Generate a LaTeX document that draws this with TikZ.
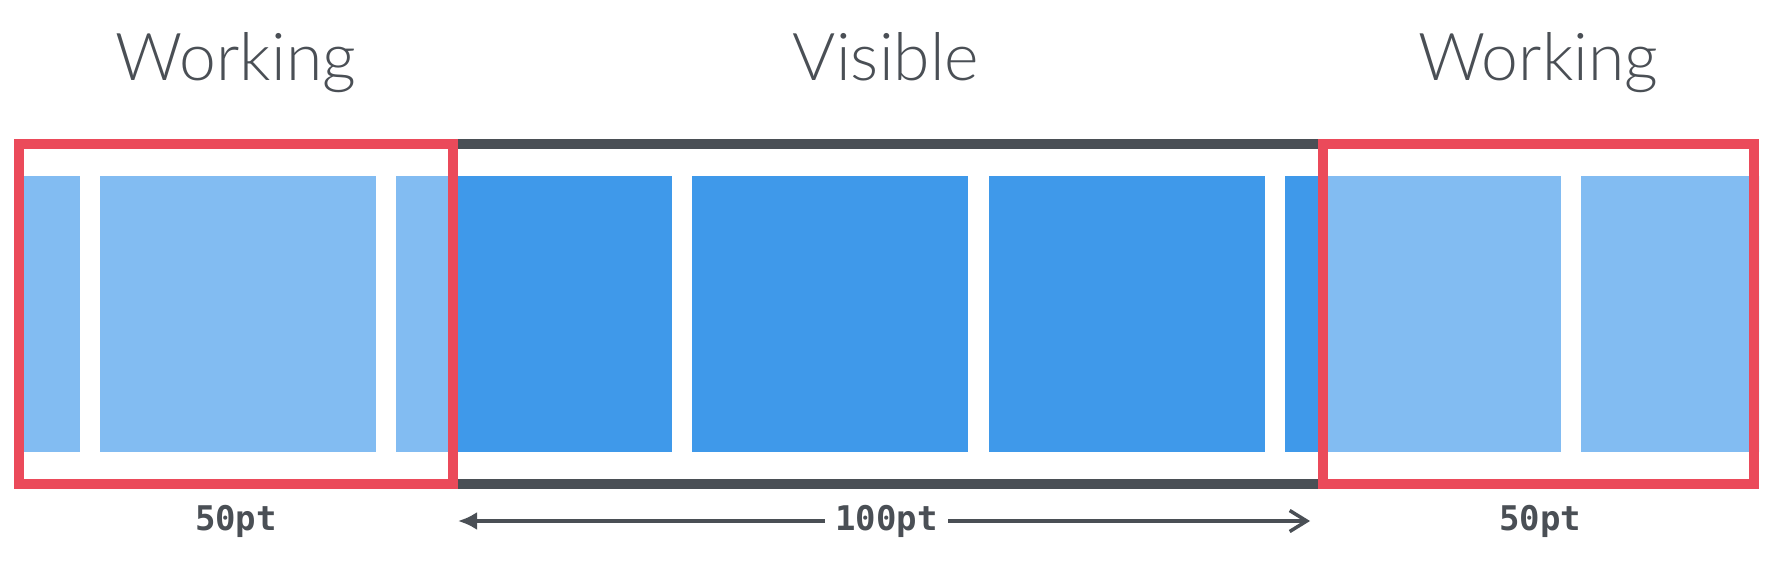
\documentclass[tikz,border=0pt]{standalone}
\usepackage{fontspec}
\usetikzlibrary{arrows.meta}
\newfontfamily\titlefont{Lato Light}
\newfontfamily\dimfont{DejaVu Sans Mono}
\definecolor{workblue}{RGB}{130,188,242}
\definecolor{seenblue}{RGB}{63,153,234}
\definecolor{workred}{RGB}{235,74,90}
\definecolor{framegray}{RGB}{74,79,85}
\tikzset{
  title/.style={text=framegray, font=\titlefont\fontsize{33}{40}\selectfont, anchor=base},
  dim/.style={text=framegray, font=\dimfont\bfseries\fontsize{17}{20}\selectfont, anchor=base, inner xsep=5pt},
  edge/.style={line width=5pt},
  dimline/.style={framegray, line width=1.75pt},
}
\begin{document}
\begin{tikzpicture}[x=0.5pt,y=-0.5pt]
    \useasboundingbox (0,0) rectangle (1776,568);
    % cells, pale where they are only worked on
    \begin{scope}
        \clip (14,139) rectangle (1759,489);
        \foreach \k in {-1,...,5}
            \fill[workblue] (100+\k*296.2,176) rectangle ++(276,276);
    \end{scope}
    \begin{scope}
        \clip (453,139) rectangle (1323,489);
        \foreach \k in {-1,...,5}
            \fill[seenblue] (100+\k*296.2,176) rectangle ++(276,276);
    \end{scope}
    % frames
    \draw[edge, framegray] (453,144) -- (1323,144);
    \draw[edge, framegray] (453,484) -- (1323,484);
    \draw[edge, workred] (19,144) rectangle (453,484);
    \draw[edge, workred] (1323,144) rectangle (1754,484);
    % titles
    \node[title] (workL) at (236,80) {Working};
    \node[title] (seen) at (886,80) {Visible};
    \node[title] (workR) at (1538,80) {Working};
    % sizes
    \node[dim] (dimL) at (236,530) {50pt};
    \node[dim] (dimM) at (886.5,530) {100pt};
    \node[dim] (dimR) at (1540,530) {50pt};
    \coordinate (tipL) at (458,521);
    \coordinate (tipR) at (1310,521);
    \draw[dimline, -{Latex[length=9.5pt,width=9pt]}] (tipL -| dimM.west) -- (tipL);
    \draw[dimline, -{Straight Barb[length=8.5pt,width=10.5pt]}] (tipR -| dimM.east) -- (tipR);
\end{tikzpicture}
\end{document}
